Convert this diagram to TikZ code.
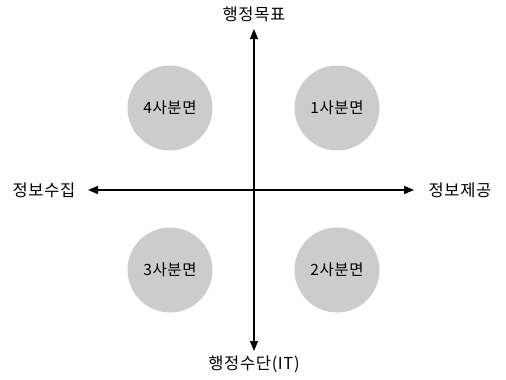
\documentclass[tikz,border=0pt]{standalone}
\usepackage{fontspec}
\setmainfont{Noto Sans CJK KR}[LetterSpace=4]
\usetikzlibrary{arrows.meta}
\begin{document}
\begin{tikzpicture}[x=1pt,y=-1pt,
  quad/.style={circle,fill=black!20,minimum size=85pt,inner sep=0pt,font=\fontsize{15.5}{17}\selectfont},
  lbl/.style={font=\fontsize{16.5}{18}\selectfont,inner sep=1pt},
  axis/.style={line width=1.2pt,-{Triangle[length=10pt,width=8pt]}}]
\useasboundingbox (0,0) rectangle (506,380);
\node[lbl] (top) at (254,14) {행정목표};
\node[lbl] (bot) at (254,364) {행정수단(IT)};
\node[lbl] (left) at (44,190) {정보수집};
\node[lbl] (right) at (460,190) {정보제공};
\coordinate (c) at (254,190);
\coordinate (vt) at (254,29);
\coordinate (vb) at (254,351);
\coordinate (hl) at (88,190);
\coordinate (hr) at (414,190);
\draw[axis] (c) -- (vt);
\draw[axis] (c) -- (vb);
\draw[axis] (c) -- (hl);
\draw[axis] (c) -- (hr);
\node[quad] (q4) at (170,108) {4사분면};
\node[quad] (q1) at (337,108) {1사분면};
\node[quad] (q3) at (170,270) {3사분면};
\node[quad] (q2) at (337,270) {2사분면};
\end{tikzpicture}
\end{document}
